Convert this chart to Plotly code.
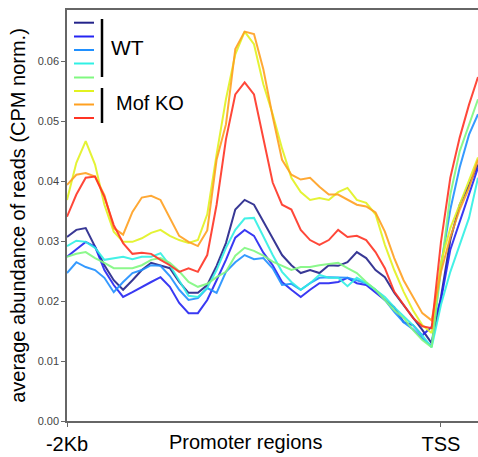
import plotly.graph_objects as go

# positions relative to TSS (bp)
positions = list(range(-2000, 201, 50))[:44] + [198]

wt1 = [0.0307,0.0319,0.0322,0.0291,0.0260,0.0235,0.0219,0.0235,0.0252,0.0264,0.0259,0.0255,0.0232,0.0214,0.0214,0.0227,0.0259,0.0297,0.0353,0.0369,0.0361,0.0332,0.0305,0.0277,0.0260,0.0247,0.0252,0.0247,0.0260,0.0259,0.0265,0.0282,0.0272,0.0252,0.0240,0.0214,0.0194,0.0172,0.0152,0.0130,0.0207,0.0302,0.0361,0.0394,0.0428]
wt2 = [0.0274,0.0287,0.0299,0.0291,0.0252,0.0227,0.0207,0.0215,0.0224,0.0232,0.0240,0.0224,0.0197,0.0180,0.0180,0.0202,0.0235,0.0269,0.0306,0.0319,0.0309,0.0281,0.0260,0.0232,0.0219,0.0207,0.0219,0.0230,0.0230,0.0232,0.0239,0.0230,0.0227,0.0214,0.0202,0.0190,0.0165,0.0160,0.0143,0.0157,0.0202,0.0286,0.0332,0.0378,0.0423]
wt3 = [0.0247,0.0265,0.0257,0.0252,0.0239,0.0215,0.0232,0.0247,0.0252,0.0260,0.0259,0.0242,0.0219,0.0202,0.0205,0.0222,0.0214,0.0249,0.0265,0.0277,0.0270,0.0272,0.0255,0.0227,0.0229,0.0219,0.0230,0.0239,0.0240,0.0240,0.0239,0.0235,0.0230,0.0219,0.0202,0.0182,0.0165,0.0153,0.0138,0.0125,0.0260,0.0353,0.0423,0.0478,0.0512]
wt4 = [0.0292,0.0301,0.0299,0.0289,0.0269,0.0272,0.0274,0.0270,0.0274,0.0274,0.0280,0.0260,0.0235,0.0209,0.0207,0.0222,0.0252,0.0289,0.0319,0.0338,0.0339,0.0307,0.0277,0.0249,0.0232,0.0219,0.0230,0.0244,0.0239,0.0239,0.0225,0.0239,0.0230,0.0219,0.0207,0.0190,0.0175,0.0160,0.0143,0.0123,0.0194,0.0249,0.0294,0.0339,0.0406]
wt5 = [0.0274,0.0279,0.0282,0.0272,0.0264,0.0255,0.0255,0.0255,0.0260,0.0269,0.0272,0.0264,0.0250,0.0232,0.0224,0.0229,0.0240,0.0249,0.0276,0.0289,0.0284,0.0276,0.0266,0.0259,0.0252,0.0257,0.0257,0.0260,0.0262,0.0264,0.0255,0.0247,0.0232,0.0219,0.0202,0.0185,0.0172,0.0152,0.0135,0.0123,0.0252,0.0378,0.0450,0.0495,0.0537]
ko1 = [0.0369,0.0431,0.0467,0.0428,0.0361,0.0316,0.0299,0.0299,0.0305,0.0314,0.0319,0.0309,0.0302,0.0297,0.0302,0.0345,0.0445,0.0537,0.0612,0.0650,0.0629,0.0562,0.0512,0.0455,0.0406,0.0382,0.0369,0.0372,0.0369,0.0382,0.0389,0.0369,0.0364,0.0345,0.0294,0.0252,0.0216,0.0185,0.0160,0.0147,0.0265,0.0322,0.0361,0.0403,0.0440]
ko2 = [0.0394,0.0411,0.0414,0.0408,0.0377,0.0322,0.0311,0.0349,0.0373,0.0376,0.0369,0.0340,0.0309,0.0299,0.0292,0.0318,0.0436,0.0495,0.0621,0.0650,0.0646,0.0587,0.0508,0.0436,0.0411,0.0403,0.0406,0.0391,0.0378,0.0378,0.0369,0.0361,0.0358,0.0348,0.0316,0.0272,0.0235,0.0207,0.0180,0.0168,0.0249,0.0307,0.0353,0.0389,0.0436]
ko3 = [0.0341,0.0378,0.0406,0.0408,0.0374,0.0327,0.0297,0.0279,0.0281,0.0279,0.0269,0.0260,0.0249,0.0255,0.0249,0.0277,0.0361,0.0470,0.0545,0.0565,0.0545,0.0470,0.0398,0.0361,0.0353,0.0319,0.0302,0.0294,0.0302,0.0319,0.0307,0.0309,0.0302,0.0282,0.0255,0.0216,0.0194,0.0172,0.0158,0.0155,0.0299,0.0406,0.0473,0.0528,0.0574]

series = [wt1, wt2, wt3, wt4, wt5, ko1, ko2, ko3]
names = ["WT 1", "WT 2", "WT 3", "WT 4", "WT 5", "Mof KO 1", "Mof KO 2", "Mof KO 3"]
colors = ["#23238a", "#2424f2", "#2090ff", "#30f0e4", "#80f880", "#e2f220", "#ffa020", "#ff3424"]

y_ticks = [0.0, 0.01, 0.02, 0.03, 0.04, 0.05, 0.06]
x_tickvals = [-2000, 0]
x_ticktext = ["-2Kb", "TSS"]

FONT = "Liberation Sans, Arial, sans-serif"

fig = go.Figure()
for vals, name, col in zip(series, names, colors):
    fig.add_trace(go.Scatter(x=positions, y=vals, mode="lines", name=name,
                             line=dict(color=col, width=2), opacity=0.9,
                             showlegend=False, hoverinfo="skip"))

# custom legend: short line samples + brackets
L, T, H = 67, 10, 411
def px(x): return (x - L) / 411
def py(y): return (T + H - y) / H
rows = [22.7, 36.5, 50, 63.5, 77.5, 91, 104.5, 118]
for r, col in zip(rows, colors):
    fig.add_shape(type="line", xref="paper", yref="paper",
                  x0=px(74), x1=px(94), y0=py(r), y1=py(r),
                  line=dict(color=col, width=2))
fig.add_shape(type="line", xref="paper", yref="paper", x0=px(102), x1=px(102),
              y0=py(19), y1=py(77), line=dict(color="black", width=2.5))
fig.add_shape(type="line", xref="paper", yref="paper", x0=px(102), x1=px(102),
              y0=py(88), y1=py(123), line=dict(color="black", width=2.5))
fig.add_annotation(xref="paper", yref="paper", x=px(109), y=py(47), text="WT",
                   showarrow=False, xanchor="left", yanchor="middle",
                   font=dict(family=FONT, size=21, color="black"))
fig.add_annotation(xref="paper", yref="paper", x=px(114), y=py(103), text="Mof KO",
                   showarrow=False, xanchor="left", yanchor="middle",
                   font=dict(family=FONT, size=20, color="black"))
fig.add_annotation(xref="paper", yref="paper", x=px(245), y=py(442), text="Promoter regions",
                   showarrow=False, xanchor="center", yanchor="middle",
                   font=dict(family=FONT, size=20, color="black"))

fig.update_layout(
    width=478, height=457,
    margin=dict(l=67, r=0, t=10, b=36),
    paper_bgcolor="white", plot_bgcolor="white",
    font=dict(family=FONT),
    xaxis=dict(range=[-2000, 198], tickvals=x_tickvals, ticktext=x_ticktext,
               showgrid=False, zeroline=False, showline=True, mirror=True,
               linecolor="#666", linewidth=1.5, ticks="outside", ticklen=4,
               tickcolor="#666", tickfont=dict(family=FONT, size=20, color="black")),
    yaxis=dict(range=[0, 0.0686], tickvals=y_ticks, tickformat=".2f",
               showgrid=False, zeroline=False, showline=True, mirror=False,
               linecolor="#666", linewidth=1.5, ticks="outside", ticklen=4,
               tickcolor="#666", tickfont=dict(family=FONT, size=11, color="#444"),
               title=dict(text="average abundance of reads (CPM norm.)", standoff=7,
                          font=dict(family=FONT, size=20, color="black"))),
)

fig.write_html("out.html", config={"displayModeBar": False})
